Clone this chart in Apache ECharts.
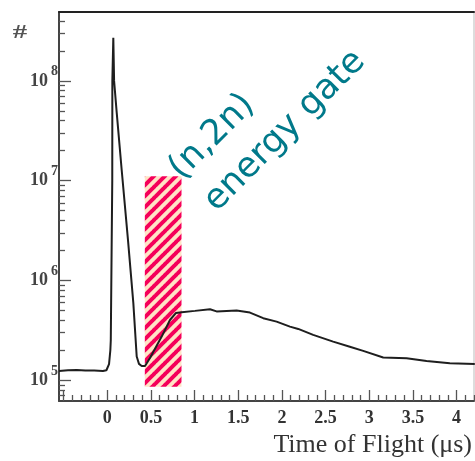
<!DOCTYPE html>
<html>
<head>
<meta charset="utf-8">
<script src="https://cdn.jsdelivr.net/npm/echarts@6/dist/echarts.min.js"></script>
<style>html,body{margin:0;padding:0;background:#fff;}#c{width:475px;height:461px;}</style>
</head>
<body>
<div id="c"></div>
<script>
// ---- data ----
const tof = [-0.553,-0.45,-0.35,-0.25,-0.15,-0.05,-0.01,0.02,0.035,0.040,0.057,0.058,0.069,0.076,0.078,0.108,0.165,0.237,0.298,0.337,0.363,0.394,0.432,0.489,0.623,0.718,0.787,0.852,1.004,1.176,1.252,1.481,1.634,1.786,1.939,2.092,2.187,2.358,2.587,2.778,2.931,3.160,3.428,3.657,3.923,4.209];
const counts = [1.24e5,1.26e5,1.27e5,1.25e5,1.25e5,1.24e5,1.26e5,1.45e5,2.0e5,2.5e5,1.0e7,1.0e8,2.7e8,2.6e8,1.0e8,4.8e7,1.28e7,2.55e6,6.0e5,1.73e5,1.46e5,1.39e5,1.39e5,1.67e5,2.74e5,4.02e5,4.73e5,4.81e5,4.96e5,5.15e5,4.90e5,4.99e5,4.77e5,4.19e5,3.87e5,3.45e5,3.27e5,2.85e5,2.44e5,2.17e5,1.97e5,1.69e5,1.66e5,1.56e5,1.48e5,1.46e5];
const xLabels = [0,0.5,1,1.5,2,2.5,3,3.5,4];
const xMajorTicks = [-0.5,0,0.5,1,1.5,2,2.5,3,3.5,4];
const yLabels = [1e5,1e6,1e7,1e8];
const gateX = [0.43, 0.85];
const gateY = [8.63e4, 1.11e7];

const xMinor = [];
for (let i = -5; i <= 42; i++) { if (i % 5 !== 0) xMinor.push(i / 10); }
const yMinor = [];
for (let d = 4; d <= 8; d++) for (let m = 2; m <= 9; m++) { const v = m * Math.pow(10, d); if (v >= 6.2e4 && v <= 4.9e8) yMinor.push(v); }

// hatch pattern
const P = 11;
const cv = document.createElement('canvas');
cv.width = P; cv.height = P;
const cx = cv.getContext('2d');
cx.fillStyle = '#ffe3c6'; cx.fillRect(0, 0, P, P);
cx.strokeStyle = '#f5005a'; cx.lineWidth = 4;
for (let k = -1; k <= 1; k++) {
  cx.beginPath(); cx.moveTo(k * P - 1, P + 1); cx.lineTo(k * P + P + 1, -1); cx.stroke();
}

const chart = echarts.init(document.getElementById('c'));
const serif = '"Liberation Serif", "Times New Roman", serif';
const axisCol = '#444';
const tickCol = '#555';
const deg = Math.PI / 180;

chart.setOption({
  animation: false,
  grid: { left: 59, right: 1, top: 12, bottom: 60, show: true, borderColor: '#bbb', borderWidth: 1, backgroundColor: 'transparent' },
  xAxis: [
    { type: 'value', min: -0.553, max: 4.2, position: 'bottom',
      axisLine: { show: true, onZero: false, lineStyle: { color: axisCol, width: 2 } },
      axisTick: { show: true, inside: true, length: 11, customValues: xMajorTicks, lineStyle: { color: tickCol, width: 1.3 } },
      axisLabel: { customValues: xLabels, margin: 8, fontFamily: serif, fontSize: 18, fontWeight: 'bold', color: '#333', formatter: v => String(v) },
      splitLine: { show: false } },
    { type: 'value', min: -0.553, max: 4.2, position: 'bottom',
      axisLine: { show: false, onZero: false },
      axisTick: { show: true, inside: true, length: 6, customValues: xMinor, lineStyle: { color: tickCol, width: 1.3 } },
      axisLabel: { show: false }, splitLine: { show: false } },
    { type: 'value', min: -0.553, max: 4.2, position: 'top',
      axisLine: { show: true, onZero: false, lineStyle: { color: '#222', width: 2 } },
      axisTick: { show: false }, axisLabel: { show: false }, splitLine: { show: false } }
  ],
  yAxis: [
    { type: 'log', min: 6.2e4, max: 4.9e8, position: 'left',
      axisLine: { show: true, onZero: false, lineStyle: { color: axisCol, width: 2 } },
      axisTick: { show: true, inside: true, length: 12, customValues: yLabels, lineStyle: { color: tickCol, width: 1.3 } },
      axisLabel: { customValues: yLabels, margin: 1,
        formatter: v => '{b|10}{s|' + Math.round(Math.log10(v)) + '}',
        rich: { b: { fontFamily: serif, fontSize: 18, fontWeight: 'bold', color: '#444' },
                s: { fontFamily: serif, fontSize: 14, fontWeight: 'bold', color: '#444', padding: [0, 0, 18, 3] } } },
      splitLine: { show: false } },
    { type: 'log', min: 6.2e4, max: 4.9e8, position: 'left',
      axisLine: { show: false, onZero: false },
      axisTick: { show: true, inside: true, length: 6, customValues: yMinor, lineStyle: { color: tickCol, width: 1.3 } },
      axisLabel: { show: false }, splitLine: { show: false } }
  ],
  series: [{
    type: 'line', xAxisIndex: 0, yAxisIndex: 0, symbol: 'none', smooth: false,
    data: tof.map((t, i) => [t, counts[i]]),
    lineStyle: { color: '#1e1e1e', width: 2 },
    clip: true,
    markArea: {
      silent: true,
      itemStyle: { color: { image: cv, repeat: 'repeat' }, opacity: 1 },
      data: [[{ xAxis: gateX[0], yAxis: gateY[0] }, { xAxis: gateX[1], yAxis: gateY[1] }]]
    }
  }],
  graphic: [
    { type: 'text', x: 20, y: 33, scaleX: 1.6, style: { text: '#', font: 'bold 18px ' + serif, fill: '#555', align: 'center', verticalAlign: 'middle' } },
    { type: 'text', x: 472, y: 445, style: { text: 'Time of Flight (μs)', font: '26px ' + serif, fill: '#333', align: 'right', verticalAlign: 'middle' } },
    { type: 'text', x: 175, y: 174, rotation: 45 * deg, style: { text: '(n,2n)', font: '35px "DejaVu Sans"', fill: '#00798a', align: 'left', verticalAlign: 'middle' } },
    { type: 'text', x: 210, y: 206, rotation: 45 * deg, style: { text: 'energy gate', font: '35px "DejaVu Sans"', fill: '#00798a', align: 'left', verticalAlign: 'middle' } }
  ]
});
</script>
</body>
</html>
